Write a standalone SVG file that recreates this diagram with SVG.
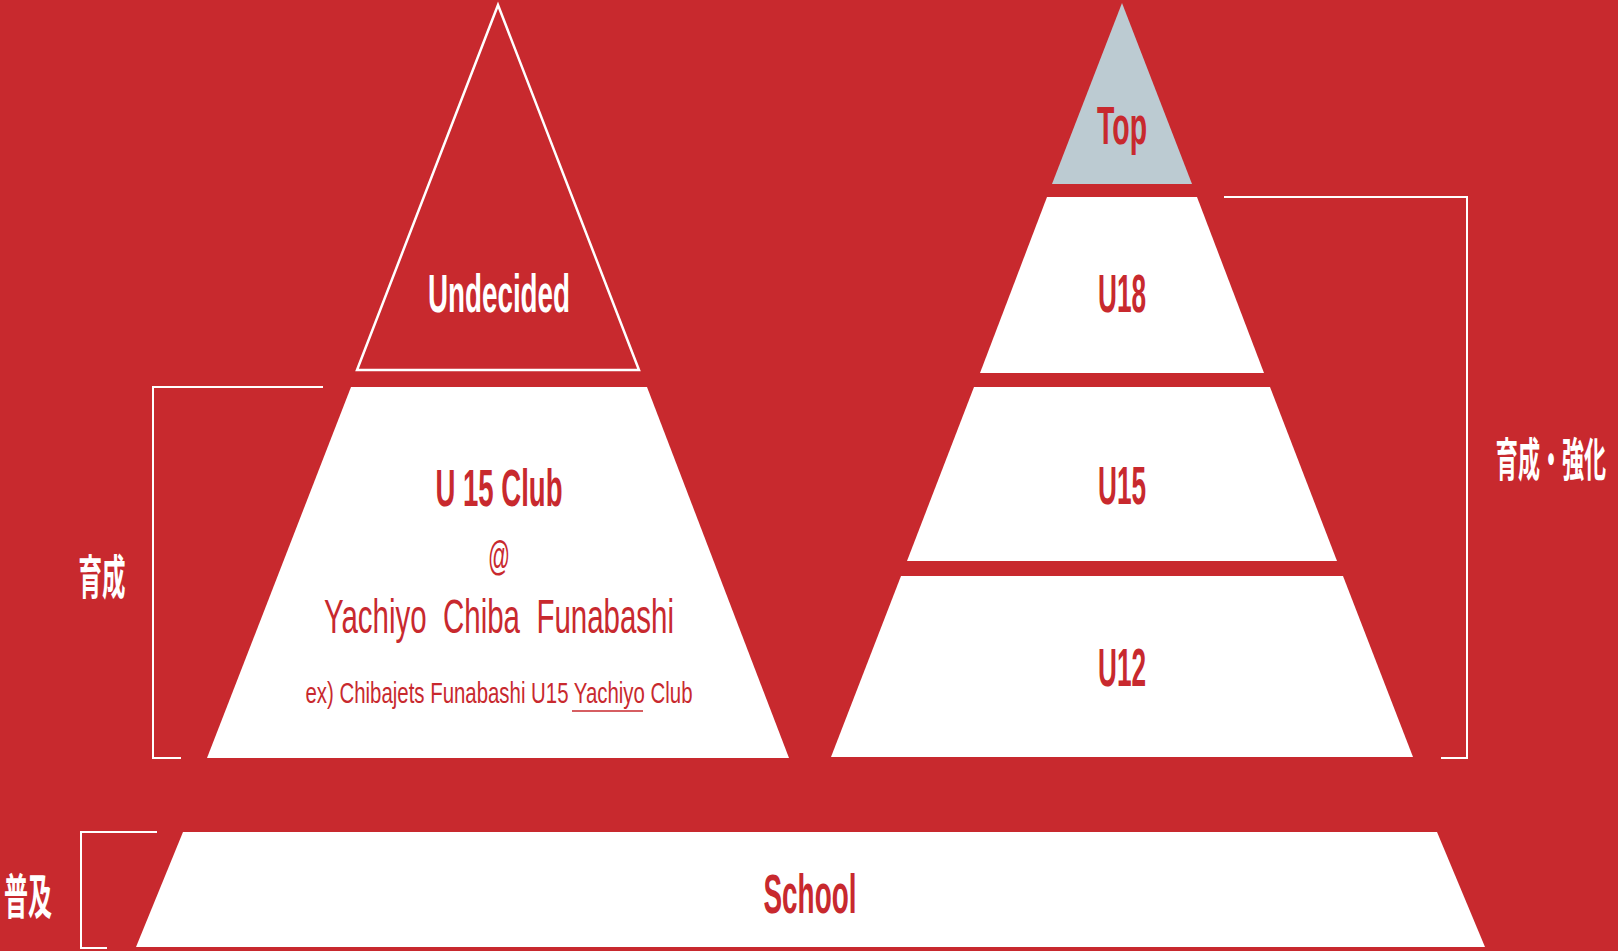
<svg xmlns="http://www.w3.org/2000/svg" width="1618" height="951" viewBox="0 0 1618 951">
  <style>
    .band { fill: #FFFFFF; }
    .bracket { fill: none; stroke: #FFFFFF; stroke-width: 2; }
    .lbl { font-family: "Liberation Sans", Arial, sans-serif; font-weight: bold; text-anchor: middle; }
    .reg { font-family: "Liberation Sans", Arial, sans-serif; font-weight: normal; text-anchor: middle; fill: #C8292E; }
    .red { fill: #C8292E; }
    .white { fill: #FFFFFF; }
    .cjk { font-family: "Noto Sans CJK JP", "Noto Sans CJK SC", sans-serif; font-weight: bold; fill: #FFFFFF; text-anchor: middle; }
  </style>
  <rect id="background" x="0" y="0" width="1618" height="951" fill="#C8292E"/>

  <g id="node-undecided">
    <polygon points="498,5 357,370 639,370" fill="none" stroke="#FFFFFF" stroke-width="2.5" stroke-linejoin="miter"/>
    <text class="lbl white" x="499" y="312" font-size="53" textLength="142" lengthAdjust="spacingAndGlyphs">Undecided</text>
  </g>

  <g id="node-u15club">
    <polygon class="band" points="351,387 647,387 789,758 207,758"/>
    <text class="lbl red" x="499" y="506" font-size="51" textLength="127" lengthAdjust="spacingAndGlyphs">U 15 Club</text>
    <text class="reg" x="499" y="570" font-size="40" textLength="22" lengthAdjust="spacingAndGlyphs">@</text>
    <text class="reg" x="499" y="633" font-size="49" textLength="350" lengthAdjust="spacingAndGlyphs" xml:space="preserve">Yachiyo  Chiba  Funabashi</text>
    <text class="reg" x="499" y="703" font-size="29" textLength="387" lengthAdjust="spacingAndGlyphs">ex) Chibajets Funabashi U15 Yachiyo Club</text>
    <line x1="572" y1="711" x2="643" y2="711" stroke="#C8292E" stroke-width="1.5"/>
  </g>

  <g id="node-top">
    <polygon fill="#BCCBD2" points="1122,3 1192,184 1052,184"/>
    <text class="lbl red" x="1122" y="144" font-size="54" textLength="50" lengthAdjust="spacingAndGlyphs">Top</text>
  </g>

  <g id="node-u18">
    <polygon class="band" points="1047,197 1197,197 1264,373 980,373"/>
    <text class="lbl red" x="1122" y="312" font-size="53" textLength="48" lengthAdjust="spacingAndGlyphs">U18</text>
  </g>

  <g id="node-u15">
    <polygon class="band" points="974,387 1270,387 1337,561 907,561"/>
    <text class="lbl red" x="1122" y="504" font-size="53" textLength="48" lengthAdjust="spacingAndGlyphs">U15</text>
  </g>

  <g id="node-u12">
    <polygon class="band" points="901,576 1343,576 1413,757 831,757"/>
    <text class="lbl red" x="1122" y="686" font-size="54" textLength="48" lengthAdjust="spacingAndGlyphs">U12</text>
  </g>

  <g id="node-school">
    <polygon class="band" points="183,832 1437,832 1485,947 136,947"/>
    <text class="lbl red" x="810" y="913" font-size="56" textLength="93" lengthAdjust="spacingAndGlyphs">School</text>
  </g>

  <g id="connectors">
    <polyline class="bracket" points="323,387 153,387 153,758 181,758"/>
    <polyline class="bracket" points="1224,197 1467,197 1467,758 1441,758"/>
    <polyline class="bracket" points="157,832 81,832 81,948 107,948"/>
  </g>

  <g id="labels">
    <text class="cjk" transform="translate(102,594) scale(0.5,1)" x="0" y="0" font-size="47">育成</text>
    <text class="cjk" transform="translate(1551,476) scale(0.48,1)" x="0" y="0" font-size="46">育成・強化</text>
    <text class="cjk" transform="translate(28,914) scale(0.5,1)" x="0" y="0" font-size="48">普及</text>
  </g>
</svg>
